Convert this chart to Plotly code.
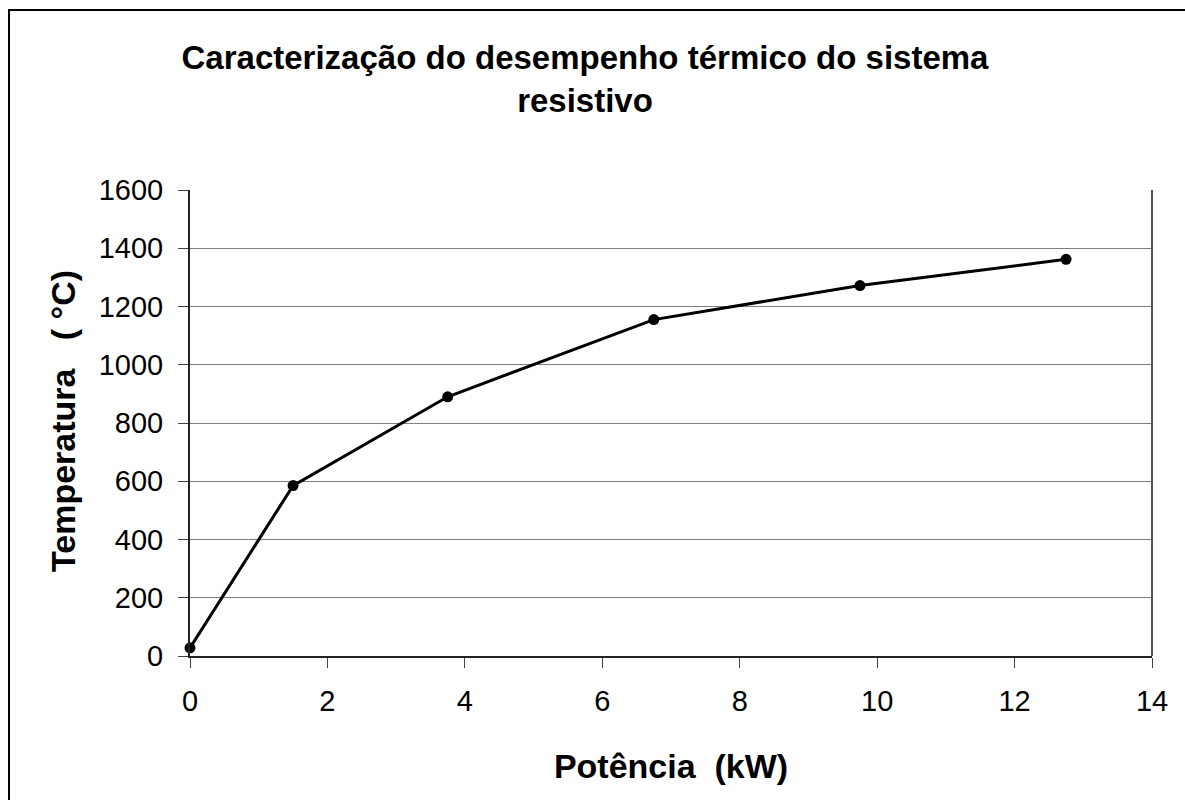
import plotly.graph_objects as go

# Measured thermal behaviour of the resistive heating system
potencia_kw = [0, 1.5, 3.75, 6.75, 9.75, 12.75]
temperatura_c = [28, 585, 890, 1155, 1272, 1362]

x_ticks = [0, 2, 4, 6, 8, 10, 12, 14]
y_ticks = [0, 200, 400, 600, 800, 1000, 1200, 1400, 1600]

FONT = "Arial, Liberation Sans, sans-serif"

fig = go.Figure()
fig.add_trace(go.Scatter(
    x=potencia_kw,
    y=temperatura_c,
    mode="lines+markers",
    line=dict(color="black", width=3),
    marker=dict(color="black", size=11),
    showlegend=False,
    cliponaxis=False,
))

W, H = 1185, 800
L, R, T, B = 190, 33, 190, 144
pw, ph = W - L - R, H - T - B


def px_x(p):
    return (p - L) / pw


def px_y(p):
    return (H - B - p) / ph


fig.update_layout(
    width=W,
    height=H,
    margin=dict(l=L, r=R, t=T, b=B),
    paper_bgcolor="white",
    plot_bgcolor="white",
    font=dict(family=FONT, color="black", size=29),
    title=dict(
        text="<b>Caracterização do desempenho térmico do sistema<br>resistivo</b>",
        x=585 / W,
        xanchor="center",
        xref="container",
        y=1 - 69 / H,
        yanchor="top",
        yref="container",
        font=dict(family=FONT, size=33, color="black"),
    ),
    xaxis=dict(
        range=[0, 14],
        tickvals=x_ticks,
        ticktext=[str(v) for v in x_ticks],
        showgrid=False,
        zeroline=False,
        showline=True,
        linecolor="#222222",
        linewidth=2,
        ticks="outside",
        ticklen=10,
        tickwidth=1,
        tickcolor="#444444",
        tickfont=dict(family=FONT, size=29, color="black"),
        ticklabelstandoff=8,
        title=dict(
            text="<b>Potência  (kW)</b>",
            font=dict(family=FONT, size=34, color="black"),
            standoff=38,
        ),
    ),
    yaxis=dict(
        range=[0, 1600],
        tickvals=y_ticks,
        ticktext=[str(v) for v in y_ticks],
        showgrid=True,
        gridcolor="#7f7f7f",
        gridwidth=1,
        zeroline=False,
        showline=True,
        linecolor="#222222",
        linewidth=2,
        ticks="outside",
        ticklen=10,
        tickwidth=1,
        tickcolor="#444444",
        tickfont=dict(family=FONT, size=29, color="black"),
        ticklabelstandoff=9,
    ),
    shapes=[
        # outer chart frame
        dict(type="rect", xref="paper", yref="paper",
             x0=px_x(9), x1=px_x(1200), y0=px_y(820), y1=px_y(10),
             line=dict(color="black", width=2), layer="below"),
        # plot area frame (right edge)
        dict(type="line", xref="paper", yref="paper",
             x0=1, x1=1, y0=0, y1=1,
             line=dict(color="#555555", width=2)),
    ],
    annotations=[
        dict(text="<b>Temperatura   ( °C)</b>", xref="paper", yref="paper",
             x=px_x(63), y=px_y(421), xanchor="center", yanchor="middle",
             textangle=-90, showarrow=False,
             font=dict(family=FONT, size=34, color="black")),
    ],
)

fig.write_html("out.html")
